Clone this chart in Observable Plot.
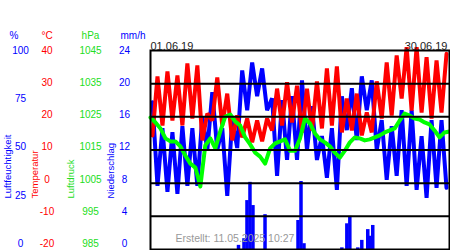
<!DOCTYPE html>
<html><head><meta charset="utf-8">
<script src="https://cdn.jsdelivr.net/npm/d3@7"></script>
<script src="https://cdn.jsdelivr.net/npm/@observablehq/plot@0.6"></script>
<style>html,body{margin:0;padding:0;background:#fff;}</style>
</head><body><div id="chart"></div>
<script>
// ---- data (June 2019) ----
const dayIndex = d3.range(30);
const tempMin = [14.4,17.4,18.9,17.4,19.5,12.9,18.9,17.4,12.9,13.8,12.3,12.6,15.9,17.4,18.3,15.3,15.9,16.5,17.4,15.3,15.9,14.4,15.3,19.5,20.4,25.5,21.9,21.3,19.5,21.3];
const tempMax = [32.2,33.7,32.5,36.1,35.5,21.0,31.9,27.0,20.4,19.5,18.9,19.5,28.5,30.4,29.4,28.5,30.7,34.6,35.2,25.5,27.0,21.3,30.7,36.4,38.5,41.0,41.0,38.0,37.0,39.0];
const humMax = [74,61,59,62,61,67,79,61,65,90,94,91,76,75,77,85,72,57,61,77,81,87,85,65,62,70,70,57,65,65];
const humMin = [32,29,28,32,32,50,50,27,51,70,77,70,37,45,45,50,45,36,30,60,55,70,50,35,37,32,30,26,31,31];
// pressure every 12 hours
const pressure = [1024.8,1023.3,1021.5,1018.5,1017.6,1017.6,1016.1,1013.3,1010.9,1009.7,1004.0,1016.4,1018.5,1015.5,1020.6,1025.1,1025.7,1023.6,1022.4,1018.8,1016.7,1014.2,1013.0,1010.9,1015.5,1017.0,1017.6,1018.2,1014.8,1014.8,1018.5,1024.5,1023.0,1020.0,1018.2,1017.3,1016.1,1014.2,1012.7,1014.8,1017.3,1018.8,1018.5,1017.9,1018.2,1018.8,1019.4,1020.3,1020.9,1021.5,1023.9,1026.0,1025.4,1024.5,1024.2,1023.3,1022.7,1020.9,1018.8,1020.3,1020.6];
const rainTime = [8.83,9.38,9.68,9.98,10.28,11.49,14.8,15.1,15.4,19.2,19.7,20.0,20.8,21.2,21.8,22.07,22.3];
const rainValue = [0.5,1.3,5.9,8.1,5.3,4.2,3.5,8.2,0.7,0.2,3.1,4.0,0.2,1.1,2.4,1.6,2.9];

const humTicks = [100,75,50,25,0];
const tempTicks = [40,30,20,10,0,-10,-20];
const presTicks = [1045,1035,1025,1015,1005,995,985];
const rainTicks = [24,20,16,12,8,4,0];
const gridLevels = [4,8,12,16,20];
const unitLabels = ["%","°C","hPa","mm/h"];
const axisTitles = ["Luftfeuchtigkeit","Temperatur","Luftdruck","Niederschlag"];
const dateStart = "01.06.19", dateEnd = "30.06.19";
const created = "Erstellt: 11.05.2025 10:27";

// ---- conversions into the shared vertical scale (mm/h units 0..24) ----
const fromHum = h => h / 100 * 24;
const fromTemp = t => (t + 20) / 60 * 24;
const fromPres = p => (p - 985) / 60 * 24;
const fromRain = r => r;
const labelPos = u => 24 - (24 - u) * 0.972;

const tempSeries = dayIndex.flatMap(d => [{t: d + 0.2, v: fromTemp(tempMin[d])}, {t: d + 0.7, v: fromTemp(tempMax[d])}]);
const humSeries = dayIndex.flatMap(d => [{t: d + 0.2, v: fromHum(humMax[d])}, {t: d + 0.7, v: fromHum(humMin[d])}]);
const presSeries = pressure.map((p, i) => ({t: i * 0.5, v: fromPres(p)}));
const rainSeries = rainTime.map((t, i) => ({t, v: rainValue[i]}));

const BLUE = "#0000ff", RED = "#ff0000", GREEN = "#00ff00", GREEN_TXT = "#22dd22";
const font = "Liberation Sans, Arial, sans-serif";

function tickCol(ticks, conv, color, dx) {
  return Plot.text(ticks, {y: d => labelPos(conv(d)), text: d => String(d), frameAnchor: "left", dx, fill: color, fontSize: 10, textAnchor: "middle"});
}
function unitText(i, color, dx) {
  return Plot.text([unitLabels[i]], {text: d => d, frameAnchor: "top-left", dx, dy: -19, fill: color, fontSize: 10, textAnchor: "middle"});
}
function titleText(i, color, dx) {
  return Plot.text([axisTitles[i]], {text: d => d, frameAnchor: "bottom-left", dx, dy: -51, rotate: -90, textAnchor: "start", fill: color, fontSize: 9.5, ariaLabel: "axis title"});
}

const chart = Plot.plot({
  width: 450, height: 250,
  marginLeft: 150, marginRight: 1, marginTop: 50, marginBottom: 1,
  style: {fontFamily: font, background: "#fff", overflow: "visible"},
  x: {domain: [0, 30], axis: null},
  y: {domain: [0, 24], axis: null},
  marks: [
    Plot.ruleX(rainSeries, {x: "t", y1: 0, y2: "v", stroke: BLUE, strokeWidth: 3.5}),
    Plot.line(humSeries, {x: "t", y: "v", stroke: BLUE, strokeWidth: 4, strokeLinejoin: "miter"}),
    Plot.line(tempSeries, {x: "t", y: "v", stroke: RED, strokeWidth: 4, strokeLinejoin: "miter"}),
    Plot.line(presSeries, {x: "t", y: "v", stroke: GREEN, strokeWidth: 4}),
    Plot.ruleY(gridLevels, {stroke: "#000", strokeWidth: 2}),
    Plot.frame({stroke: "#000", strokeWidth: 2}),
    tickCol(humTicks, fromHum, BLUE, -130),
    tickCol(tempTicks, fromTemp, RED, -103.5),
    tickCol(presTicks, fromPres, GREEN_TXT, -60),
    tickCol(rainTicks, fromRain, BLUE, -26),
    unitText(0, BLUE, -136.5),
    unitText(1, RED, -103.5),
    unitText(2, GREEN_TXT, -60),
    unitText(3, BLUE, -17.5),
    titleText(0, BLUE, -140),
    titleText(1, RED, -113),
    titleText(2, GREEN_TXT, -77),
    titleText(3, BLUE, -37),
    Plot.text([dateStart], {text: d => d, frameAnchor: "top-left", dy: -8, textAnchor: "start", fill: "#222", fontSize: 11}),
    Plot.text([dateEnd], {text: d => d, frameAnchor: "top-right", dx: -2, dy: -8, textAnchor: "end", fill: "#222", fontSize: 11}),
    Plot.text([created], {text: d => d, frameAnchor: "bottom-left", dx: 25, dy: -8, textAnchor: "start", fill: "#999", fontSize: 10.5})
  ]
});

// stretch the rotated axis titles along their length, as in the reference
const titleLengths = {"Luftfeuchtigkeit": 120, "Temperatur": 92, "Luftdruck": 71, "Niederschlag": 101};
d3.select(chart).selectAll('g[aria-label="axis title"] text').each(function() {
  const t = this.textContent;
  if (titleLengths[t]) d3.select(this).attr("textLength", titleLengths[t]).attr("lengthAdjust", "spacingAndGlyphs");
});
document.getElementById("chart").appendChild(chart);
</script>
</body></html>
